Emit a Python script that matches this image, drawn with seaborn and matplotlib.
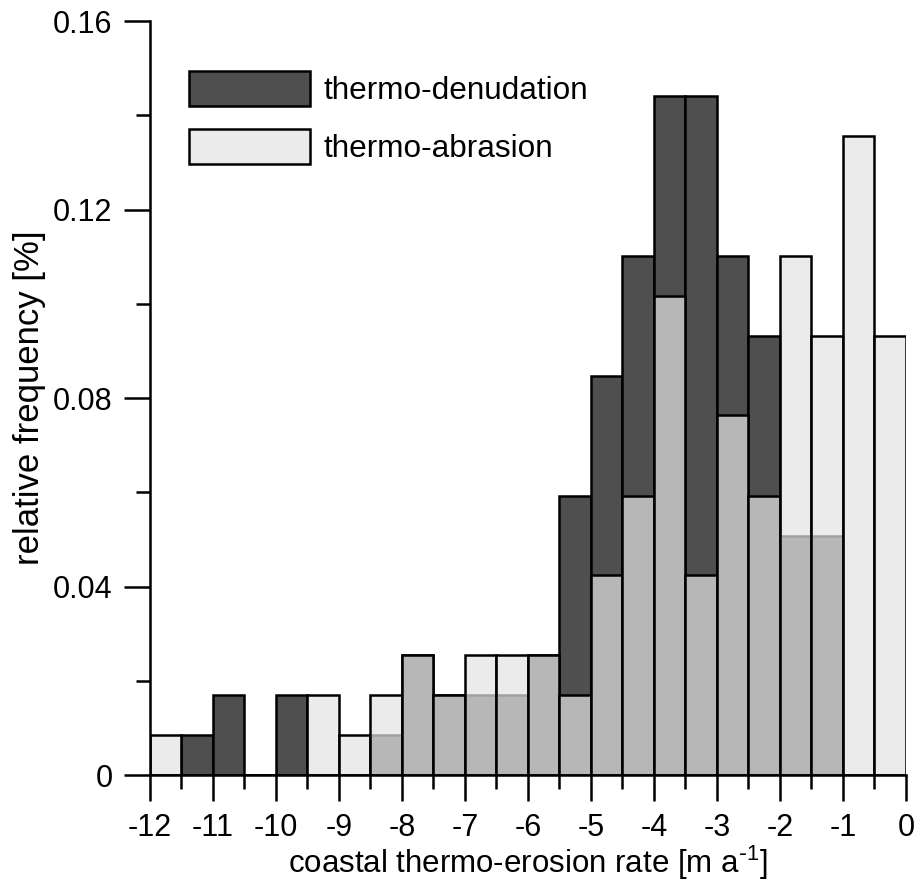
import numpy as np
import matplotlib
matplotlib.use("Agg")
import matplotlib.pyplot as plt
from matplotlib.patches import Patch
from matplotlib.ticker import MultipleLocator
import seaborn as sns

# --- data: relative frequency per 0.5 m/a bin ------------------------------
bin_edges = [-12, -11.5, -11, -10.5, -10, -9.5, -9, -8.5, -8, -7.5, -7, -6.5, -6,
             -5.5, -5, -4.5, -4, -3.5, -3, -2.5, -2, -1.5, -1, -0.5, 0]
bin_centers = [-11.75, -11.25, -10.75, -10.25, -9.75, -9.25, -8.75, -8.25, -7.75,
               -7.25, -6.75, -6.25, -5.75, -5.25, -4.75, -4.25, -3.75, -3.25,
               -2.75, -2.25, -1.75, -1.25, -0.75, -0.25]
denudation = [0.0, 0.0085, 0.0169, 0.0, 0.0169, 0.0, 0.0, 0.0085, 0.0254, 0.0169,
              0.0169, 0.0169, 0.0254, 0.0593, 0.0847, 0.1102, 0.1441, 0.1441,
              0.1102, 0.0932, 0.0508, 0.0508, 0.0, 0.0]
abrasion = [0.0085, 0.0, 0.0, 0.0, 0.0, 0.0169, 0.0085, 0.0169, 0.0254, 0.0169,
            0.0254, 0.0254, 0.0254, 0.0169, 0.0424, 0.0593, 0.1017, 0.0424,
            0.0763, 0.0593, 0.1102, 0.0932, 0.1356, 0.0932]
series_names = ["thermo-denudation", "thermo-abrasion"]
x_ticks = [-12, -11, -10, -9, -8, -7, -6, -5, -4, -3, -2, -1, 0]
y_ticks = [0, 0.04, 0.08, 0.12, 0.16]
y_ticklabels = ["0", "0.04", "0.08", "0.12", "0.16"]

dark = "#4f4f4f"
light = "#e4e4e4"
light_alpha = 0.705
lw = 1.8

sns.set_theme(style="ticks")
plt.rcParams["font.family"] = ["Liberation Sans", "DejaVu Sans"]
plt.rcParams["mathtext.default"] = "regular"
plt.rcParams["text.color"] = "black"
plt.rcParams["axes.labelcolor"] = "black"

fig = plt.figure(figsize=(9.14, 8.84), dpi=100)
ax = fig.add_axes([0.1641, 0.1233, 0.8271, 0.8529])

# dark series first, light (semi-transparent) on top
sns.histplot(x=bin_centers, weights=denudation, bins=bin_edges, stat="count",
             color=dark, edgecolor="black", linewidth=lw, alpha=1, ax=ax)
n_dark = len(ax.patches)
sns.histplot(x=bin_centers, weights=abrasion, bins=bin_edges, stat="count",
             color=light, edgecolor="black", linewidth=lw, alpha=1, ax=ax)
for p in ax.patches[n_dark:]:
    p.set_alpha(None)
    p.set_facecolor(matplotlib.colors.to_rgba(light, light_alpha))
    p.set_edgecolor("black")

ax.set_xlim(-12, 0)
ax.set_ylim(0, 0.16)
ax.set_xticks(x_ticks)
ax.set_xticklabels([str(t) for t in x_ticks])
ax.set_yticks(y_ticks)
ax.set_yticklabels(y_ticklabels)
ax.xaxis.set_minor_locator(MultipleLocator(0.5))
ax.yaxis.set_minor_locator(MultipleLocator(0.02))

for side in ["top", "right"]:
    ax.spines[side].set_visible(False)
for side in ["left", "bottom"]:
    ax.spines[side].set_linewidth(lw)
    ax.spines[side].set_color("black")

ax.tick_params(which="major", length=19, width=lw, labelsize=22, colors="black",
               pad=8)
ax.tick_params(which="minor", length=10, width=lw, colors="black")

ax.set_xlabel(r"coastal thermo-erosion rate [m a$^{\text{-}1}$]", fontsize=22.5,
              labelpad=1)
ax.set_ylabel("relative frequency [%]", fontsize=25, labelpad=5)

handles = [Patch(facecolor=dark, edgecolor="black", linewidth=lw),
           Patch(facecolor="#ececec", edgecolor="black", linewidth=lw)]
ax.legend(handles, series_names, loc="upper left", bbox_to_anchor=(0.0516, 0.934),
          frameon=False, fontsize=22.7, handlelength=3.85, handleheight=1.32,
          labelspacing=0.74, handletextpad=0.42, borderpad=0, borderaxespad=0)

fig.savefig("out.png", dpi=100)
